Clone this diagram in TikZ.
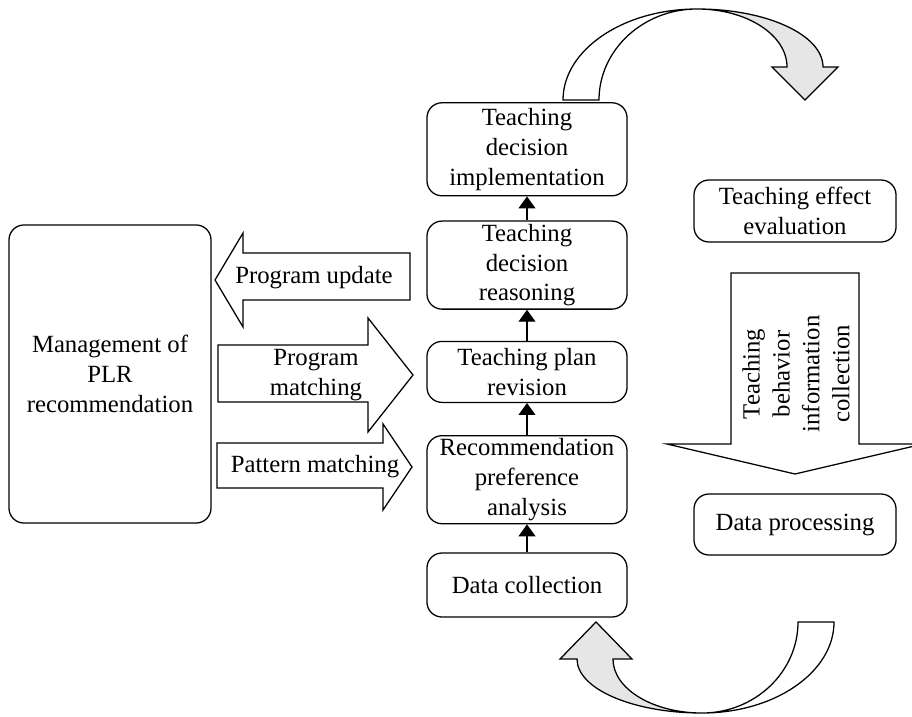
\documentclass[tikz,border=0pt]{standalone}
\usepackage{fontspec}
\setmainfont{Liberation Serif}
\usepackage{tikz}
\usetikzlibrary{positioning, arrows.meta}
\definecolor{bendFill}{HTML}{E6E6E6}

\begin{document}
\begin{tikzpicture}[x=0.025cm, y=-0.025cm, stg/.style={draw, line width=0.9pt, rounded corners=0.375cm, align=center, minimum width=5cm, inner sep=2pt, font=\fontsize{17.6}{21.3}\selectfont},lbl/.style={align=center, inner sep=0pt, font=\fontsize{17.6}{21.3}\selectfont},shp/.style={draw, line width=0.9pt, line join=miter},upar/.style={line width=0.9pt, -{Triangle[width=12pt,length=8.5pt]}}]
\useasboundingbox (0,0) rectangle (912,716);
% centre column
\node[stg, minimum height=1.6cm] (dc) at (527,585) {Data collection};
\node[stg, minimum height=2.2cm, above=0.7cm of dc] (rpa) {Recommendation\\preference\\analysis};
\node[stg, minimum height=1.525cm, above=0.8cm of rpa] (tpr) {Teaching plan\\revision};
\node[stg, minimum height=2.175cm, above=0.775cm of tpr] (tdr) {Teaching\\decision\\reasoning};
\node[stg, minimum height=2.325cm, above=0.6cm of tdr] (tdi) {Teaching\\decision\\implementation};
\foreach \a/\b in {dc/rpa, rpa/tpr, tpr/tdr, tdr/tdi} \draw[upar] (\a) -- (\b);
% left and right boxes
\node[stg, minimum width=5.05cm, minimum height=7.45cm] (mgmt) at (110,374) {Management of\\PLR\\recommendation};
\node[stg, minimum width=5.05cm, minimum height=1.55cm] (tee) at (795,211) {Teaching effect\\evaluation};
\node[stg, minimum width=5.05cm, minimum height=1.525cm] (dp) at (795,524.5) {Data processing};
% block arrows
\draw[shp] (410,253) -- (410,300) -- (243,300) -- (243,327) -- (215,280) -- (243,233) -- (243,253) -- cycle;
\node[lbl] (pu) at (314,278) {Program update};
\draw[shp] (218,345) -- (368,345) -- (368,318) -- (413,375) -- (368,432) -- (368,402) -- (218,402) -- cycle;
\node[lbl] (pm) at (316,375) {Program\\matching};
\draw[shp] (217,443) -- (383,443) -- (383,424) -- (412,467) -- (383,510) -- (383,488) -- (217,488) -- cycle;
\node[lbl] (ptm) at (315,467) {Pattern matching};
\draw[shp] (731,273) -- (859,273) -- (859,444) -- (923,444) -- (795,474) -- (667,444) -- (731,444) -- cycle;
\node[lbl, rotate=90] (tbic) at (796,374) {Teaching\\behavior\\information\\collection};
% curved arrows
\fill[bendFill] (697,9) .. controls (747,9) and (787,35) .. (787,67) -- (772,67) -- (805,100) -- (838,67) -- (823,67) .. controls (823,35) and (767,9) .. (697,9);
\draw[shp] (563,100) -- (599,100) .. controls (599,50) and (643,9) .. (697,9) .. controls (747,9) and (787,35) .. (787,67) -- (772,67) -- (805,100) -- (838,67) -- (823,67) .. controls (823,35) and (767,9) .. (697,9) .. controls (623,9) and (563,50) .. (563,100) -- cycle;
\fill[bendFill] (702,713) .. controls (653,713) and (613,689) .. (613,659) -- (632,659) -- (596,622) -- (560,659) -- (577,659) .. controls (577,689) and (633,713) .. (702,713);
\draw[shp] (834,622) -- (798,622) .. controls (798,672) and (755,713) .. (702,713) .. controls (653,713) and (613,689) .. (613,659) -- (632,659) -- (596,622) -- (560,659) -- (577,659) .. controls (577,689) and (633,713) .. (702,713) .. controls (775,713) and (834,672) .. (834,622) -- cycle;
\end{tikzpicture}
\end{document}
